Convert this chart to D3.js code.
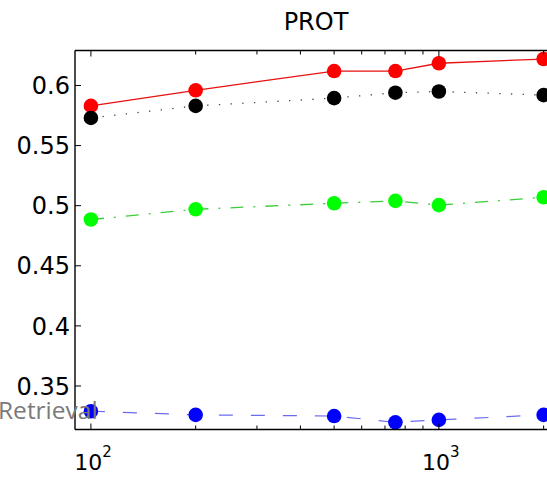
<!DOCTYPE html>
<html>
<head>
<meta charset="UTF-8"/>
<title>PROT</title>
<script src="https://d3js.org/d3.v7.min.js"></script>
<style>
body { margin: 0; background: white; }
svg { display: block; }
</style>
</head>
<body>
<div id="chart"></div>
<script>
// data
var sizes = [100, 200, 500, 750, 1000, 2000];
var red   = [0.583, 0.596, 0.612, 0.612, 0.6185, 0.622];
var black = [0.573, 0.583, 0.5895, 0.594, 0.595, 0.592];
var green = [0.4885, 0.497, 0.502, 0.504, 0.5005, 0.507];
var blue  = [0.329, 0.326, 0.325, 0.3198, 0.3218, 0.326];
var yTicks = [0.35, 0.4, 0.45, 0.5, 0.55, 0.6];
var xMajor = [100, 1000];
var xMinor = [200, 300, 400, 500, 600, 700, 800, 900, 2000];

var series = [
  {vals: red,   stroke: "#e81010", width: 1.3, dash: null,          dot: "#ff0000"},
  {vals: black, stroke: "#444",    width: 1.3, dash: "1.3,10.4",    dot: "#000000"},
  {vals: green, stroke: "#3ccc3c", width: 1.3, dash: "13,10,2,10",  dot: "#00ff00"},
  {vals: blue,  stroke: "#6b6bf0", width: 1.2, dash: "14,18",       dot: "#0000ff"}
];

var W = 547, H = 477;
var plotLeft = 75, plotTop = 50.5, plotBottom = 429.5;

var svg = d3.select("#chart").append("svg")
    .attr("width", W)
    .attr("height", H);

var x = d3.scaleLog().domain([90, 2100]).range([plotLeft, 551]);
var y = d3.scaleLinear().domain([0.3138, 0.6291]).range([plotBottom, plotTop]);

// title
svg.append("text")
    .attr("x", 316).attr("y", 30)
    .attr("text-anchor", "middle")
    .style("font-family", "DejaVu Sans")
    .style("font-size", "24px")
    .text("PROT");

// lines and dots
var line = d3.line()
    .x(function(d, i) { return x(sizes[i]); })
    .y(function(d) { return y(d); });

series.forEach(function(s) {
  svg.append("path")
      .attr("d", line(s.vals))
      .attr("fill", "none")
      .attr("stroke", s.stroke)
      .attr("stroke-width", s.width)
      .attr("stroke-dasharray", s.dash);
});
series.forEach(function(s) {
  svg.selectAll(null).data(s.vals).enter().append("circle")
      .attr("cx", function(d, i) { return x(sizes[i]); })
      .attr("cy", function(d) { return y(d); })
      .attr("r", 7.3)
      .attr("fill", s.dot);
});

// axis box
var ax = svg.append("g").attr("stroke", "black").attr("stroke-width", 1.4);
ax.append("line").attr("x1", plotLeft).attr("x2", W).attr("y1", plotTop).attr("y2", plotTop);
ax.append("line").attr("x1", plotLeft).attr("x2", W).attr("y1", plotBottom).attr("y2", plotBottom);
ax.append("line").attr("x1", plotLeft).attr("x2", plotLeft).attr("y1", plotTop).attr("y2", plotBottom);

// x ticks (inward, top and bottom)
var tk = svg.append("g").attr("stroke", "black").attr("stroke-width", 1);
xMajor.concat(xMinor).forEach(function(v) {
  var len = xMajor.indexOf(v) >= 0 ? 6 : 4;
  tk.append("line").attr("x1", x(v)).attr("x2", x(v)).attr("y1", plotBottom).attr("y2", plotBottom - len);
  tk.append("line").attr("x1", x(v)).attr("x2", x(v)).attr("y1", plotTop).attr("y2", plotTop + len);
});
// y ticks (inward)
yTicks.forEach(function(v) {
  tk.append("line").attr("x1", plotLeft).attr("x2", plotLeft + 6).attr("y1", y(v)).attr("y2", y(v));
});

// y tick labels
svg.selectAll(null).data(yTicks).enter().append("text")
    .attr("x", 70)
    .attr("y", function(d) { return y(d); })
    .attr("dy", "0.36em")
    .attr("text-anchor", "end")
    .style("font-family", "DejaVu Sans")
    .style("font-size", "24px")
    .text(function(d) { return d3.format("")(d); });

// x tick labels 10^n
xMajor.forEach(function(v) {
  var t = svg.append("text")
      .attr("x", x(v) + 2)
      .attr("y", 470)
      .attr("text-anchor", "middle")
      .style("font-family", "DejaVu Sans")
      .style("font-size", "22px");
  t.append("tspan").text("10");
  t.append("tspan")
      .attr("dy", -13)
      .style("font-size", "15px")
      .text(String(Math.round(Math.log10(v))));
});

// grey overlay text
svg.append("text")
    .attr("x", -2)
    .attr("y", 419)
    .attr("fill", "#7a7a7a")
    .style("font-family", "Open Sans")
    .style("font-size", "24.5px")
    .text("Retrieval");
</script>
</body>
</html>
